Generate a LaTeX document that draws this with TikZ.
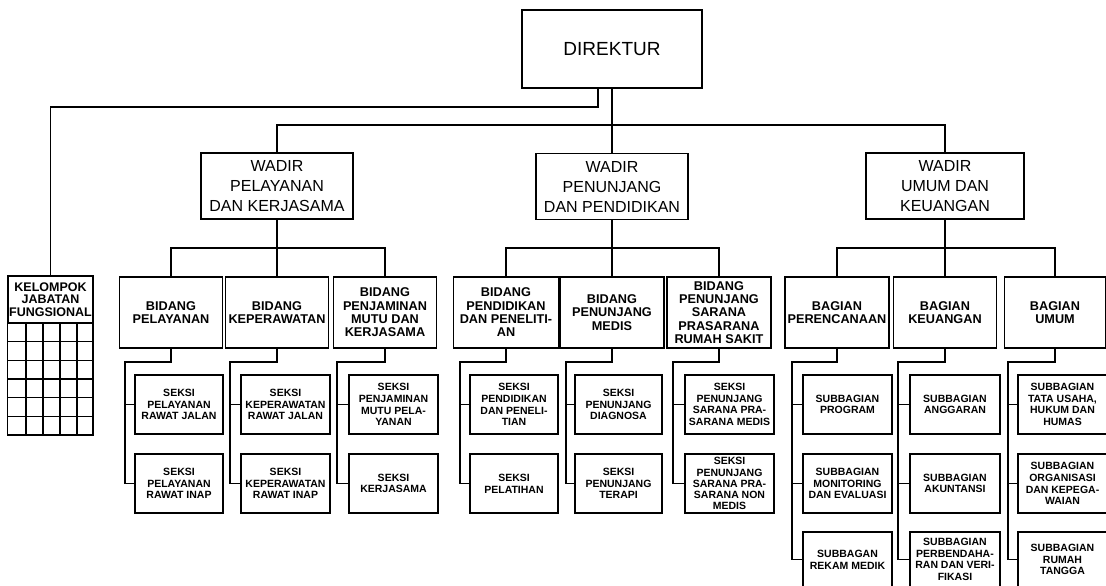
\documentclass[tikz,border=0pt]{standalone}
\usepackage{fontspec}
\setmainfont{Liberation Sans}
\begin{document}
\begin{tikzpicture}[x=1pt,y=-1pt,line width=1.4pt,
  box/.style={draw, line width=1.4pt, inner sep=1pt, align=center, fill=white},
  topbox/.style={box, font=\fontsize{19}{22}\selectfont},
  wadir/.style={box, font=\fontsize{16}{20}\selectfont, minimum width=152pt, minimum height=66pt},
  bid/.style={box, font=\fontsize{12.7}{13.3}\selectfont\bfseries, minimum height=71pt},
  sek/.style={box, font=\fontsize{10.5}{11.7}\selectfont\bfseries, minimum height=59pt},
  sekl/.style={box, font=\fontsize{10.5}{11.7}\selectfont\bfseries, minimum height=55pt},
  conn/.style={draw, line width=1.4pt}
]
\useasboundingbox (0,0) rectangle (1106,586);
\fill[white] (0,0) rectangle (1106,586);

% top levels
\node[topbox, minimum width=180pt, minimum height=78pt] (dir) at (612,49) {DIREKTUR};
\node[wadir] (wp) at (277,186) {WADIR\\PELAYANAN\\DAN KERJASAMA};
\node[wadir] (wn) at (612,186.5) {WADIR\\PENUNJANG\\DAN PENDIDIKAN};
\node[wadir, minimum width=158pt] (wu) at (945,186) {WADIR\\UMUM DAN\\KEUANGAN};

% kelompok jabatan fungsional
\node[box, font=\fontsize{12.5}{12.5}\selectfont\bfseries, minimum width=85pt, minimum height=47pt, inner sep=0pt] (kel) at (50.5,299.5) {KELOMPOK\\JABATAN\\FUNGSIONAL};
\draw (kel.south west) rectangle (93,435);
\foreach \xx in {26,43,60,77} \draw (\xx,323) -- (\xx,435);
\foreach \yy in {341.7,360.3,379,397.7,416.3} \draw (8,\yy) -- (93,\yy);

% bidang / bagian
\node[bid, minimum width=103pt] (bp) at (171,312.5) {BIDANG\\PELAYANAN};
\node[bid, minimum width=103pt] (bk) at (277,312.5) {BIDANG\\KEPERAWATAN};
\node[bid, minimum width=103pt] (bj) at (385,312.5) {BIDANG\\PENJAMINAN\\MUTU DAN\\KERJASAMA};
\node[bid, minimum width=105pt] (bd) at (506,312.5) {BIDANG\\PENDIDIKAN\\DAN PENELITI-\\AN};
\node[bid, minimum width=104pt] (bm) at (612,312.5) {BIDANG\\PENUNJANG\\MEDIS};
\node[bid, minimum width=104pt] (bs) at (719,312.5) {BIDANG\\PENUNJANG\\SARANA\\PRASARANA\\RUMAH SAKIT};
\node[bid, minimum width=104pt] (gp) at (837,312.5) {BAGIAN\\PERENCANAAN};
\node[bid, minimum width=103pt] (gk) at (945,312.5) {BAGIAN\\KEUANGAN};
\node[bid, minimum width=101pt] (gu) at (1055,312.5) {BAGIAN\\UMUM};

% seksi / subbagian
\node[sek, minimum width=88pt] (s11) at (179,404.5) {SEKSI\\PELAYANAN\\RAWAT JALAN};
\node[sek, minimum width=88pt] (s12) at (179,483.5) {SEKSI\\PELAYANAN\\RAWAT INAP};
\node[sek, minimum width=89pt] (s21) at (285.5,404.5) {SEKSI\\KEPERAWATAN\\RAWAT JALAN};
\node[sek, minimum width=89pt] (s22) at (285.5,483.5) {SEKSI\\KEPERAWATAN\\RAWAT INAP};
\node[sek, minimum width=89pt] (s31) at (393.5,404.5) {SEKSI\\PENJAMINAN\\MUTU PELA-\\YANAN};
\node[sek, minimum width=89pt] (s32) at (393.5,483.5) {SEKSI\\KERJASAMA};
\node[sek, minimum width=88pt] (s41) at (514,404.5) {SEKSI\\PENDIDIKAN\\DAN PENELI-\\TIAN};
\node[sek, minimum width=88pt] (s42) at (514,483.5) {SEKSI\\PELATIHAN};
\node[sek, minimum width=87pt] (s51) at (618.5,404.5) {SEKSI\\PENUNJANG\\DIAGNOSA};
\node[sek, minimum width=87pt] (s52) at (618.5,483.5) {SEKSI\\PENUNJANG\\TERAPI};
\node[sek, minimum width=89pt] (s61) at (729.5,404.5) {SEKSI\\PENUNJANG\\SARANA PRA-\\SARANA MEDIS};
\node[sek, minimum width=89pt, font=\fontsize{10.5}{11.1}\selectfont\bfseries] (s62) at (729.5,483.5) {SEKSI\\PENUNJANG\\SARANA PRA-\\SARANA NON\\MEDIS};
\node[sek, minimum width=89pt] (u11) at (847.5,404.5) {SUBBAGIAN\\PROGRAM};
\node[sek, minimum width=89pt] (u12) at (847.5,483.5) {SUBBAGIAN\\MONITORING\\DAN EVALUASI};
\node[sekl, minimum width=89pt] (u13) at (847.5,559.5) {SUBBAGAN\\REKAM MEDIK};
\node[sek, minimum width=90pt] (u21) at (955,404.5) {SUBBAGIAN\\ANGGARAN};
\node[sek, minimum width=90pt] (u22) at (955,483.5) {SUBBAGIAN\\AKUNTANSI};
\node[sekl, minimum width=90pt] (u23) at (955,559.5) {SUBBAGIAN\\PERBENDAHA-\\RAN DAN VERI-\\FIKASI};
\node[sek, minimum width=89pt] (u31) at (1062.5,404.5) {SUBBAGIAN\\TATA USAHA,\\HUKUM DAN\\HUMAS};
\node[sek, minimum width=89pt] (u32) at (1062.5,483.5) {SUBBAGIAN\\ORGANISASI\\DAN KEPEGA-\\WAIAN};
\node[sekl, minimum width=89pt] (u33) at (1062.5,559.5) {SUBBAGIAN\\RUMAH\\TANGGA};

% top connectors
\coordinate (kb) at (598,107);
\coordinate (bus) at (612,125);
\draw[conn] (dir.south -| kb) -- (kb) -| (kel.north);
\draw[conn] (dir.south) -- (wn.north);
\draw[conn] (wp.north) |- (bus) -| (wu.north);

% wadir to bidang
\coordinate (pb1) at (277,248);
\coordinate (pb2) at (612,248);
\coordinate (pb3) at (945,248);
\draw[conn] (wp.south) -- (bk.north);
\draw[conn] (bp.north) |- (pb1) -| (bj.north);
\draw[conn] (wn.south) -- (bm.north);
\draw[conn] (bd.north) |- (pb2) -| (bs.north);
\draw[conn] (wu.south) -- (gk.north);
\draw[conn] (gp.north) |- (pb3) -| (gu.north);

% bidang to seksi
\coordinate (t1) at (125,362);
\coordinate (t2) at (230,362);
\coordinate (t3) at (337,362);
\coordinate (t4) at (460,362);
\coordinate (t5) at (566,362);
\coordinate (t6) at (673,362);
\coordinate (t7) at (792,362);
\coordinate (t8) at (898,362);
\coordinate (t9) at (1008,362);
\draw[conn] (bp.south) |- (t1) |- (s12.west);
\draw[conn] (s11.west -| t1) -- (s11.west);
\draw[conn] (bk.south) |- (t2) |- (s22.west);
\draw[conn] (s21.west -| t2) -- (s21.west);
\draw[conn] (bj.south) |- (t3) |- (s32.west);
\draw[conn] (s31.west -| t3) -- (s31.west);
\draw[conn] (bd.south) |- (t4) |- (s42.west);
\draw[conn] (s41.west -| t4) -- (s41.west);
\draw[conn] (bm.south) |- (t5) |- (s52.west);
\draw[conn] (s51.west -| t5) -- (s51.west);
\draw[conn] (bs.south) |- (t6) |- (s62.west);
\draw[conn] (s61.west -| t6) -- (s61.west);
\draw[conn] (gp.south) |- (t7) |- (u13.west);
\draw[conn] (u11.west -| t7) -- (u11.west);
\draw[conn] (u12.west -| t7) -- (u12.west);
\draw[conn] (gk.south) |- (t8) |- (u23.west);
\draw[conn] (u21.west -| t8) -- (u21.west);
\draw[conn] (u22.west -| t8) -- (u22.west);
\draw[conn] (gu.south) |- (t9) |- (u33.west);
\draw[conn] (u31.west -| t9) -- (u31.west);
\draw[conn] (u32.west -| t9) -- (u32.west);
\end{tikzpicture}
\end{document}
